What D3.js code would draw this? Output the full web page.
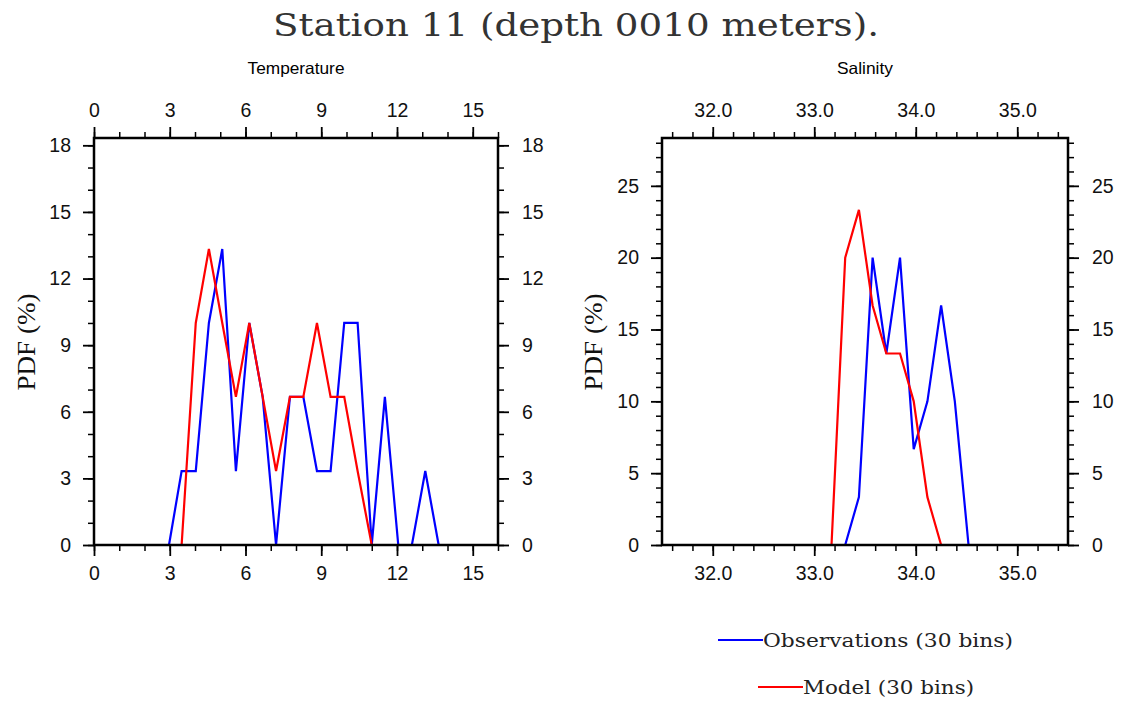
<!DOCTYPE html>
<html><head><meta charset="utf-8">
<script src="https://cdn.jsdelivr.net/npm/d3@7"></script>
<style>body{margin:0;background:#fff}svg{display:block}</style>
</head><body>
<svg id="c" width="1125" height="702"></svg>
<script>
// ---- data ----
const tempBins = [2.97, 3.47, 4.03, 4.55, 5.08, 5.62, 6.15, 6.68, 7.21, 7.76, 8.29, 8.83, 9.37, 9.91, 10.44, 11.0, 11.52, 12.05, 12.59, 13.12, 13.65];
const tempObs  = [0, 3.33, 3.33, 10, 13.33, 3.33, 10, 6.67, 0, 6.67, 6.67, 3.33, 3.33, 10, 10, 0, 6.67, 0, 0, 3.33, 0];
const tempModel = [null, 0, 10, 13.33, 10, 6.67, 10, 6.67, 3.33, 6.67, 6.67, 10, 6.67, 6.67, 3.33, 0, null, null, null, null, null];
const salBins = [33.17, 33.305, 33.44, 33.575, 33.71, 33.845, 33.98, 34.115, 34.25, 34.385, 34.52];
const salObs   = [null, 0, 3.33, 20, 13.33, 20, 6.67, 10, 16.67, 10, 0];
const salModel = [0, 20, 23.33, 16.67, 13.33, 13.33, 10, 3.33, 0, null, null];
const tempXTicks = [0, 3, 6, 9, 12, 15];
const tempYTicks = [0, 3, 6, 9, 12, 15, 18];
const salXTicks = [32, 33, 34, 35];
const salYTicks = [0, 5, 10, 15, 20, 25];
const seriesNames = ["Observations (30 bins)", "Model (30 bins)"];
const seriesColors = ["#0000ff", "#ff0000"];

const svg = d3.select("#c");
const dserif = "'DejaVu Serif', serif";
const sans = "'Liberation Sans', Arial, sans-serif";
const serif = "'Liberation Serif', 'Times New Roman', serif";

svg.append("text").attr("x", 576).attr("y", 36).attr("text-anchor", "middle")
  .attr("font-family", dserif).attr("font-size", 31).attr("fill", "#333")
  .attr("textLength", 606).attr("lengthAdjust", "spacingAndGlyphs")
  .text("Station 11 (depth 0010 meters).");

function panel(o) {
  const x = d3.scaleLinear().domain(o.xDomain).range([o.x0, o.x1]);
  const y = d3.scaleLinear().domain(o.yDomain).range([o.y1, o.y0]);
  const g = svg.append("g");
  // subtitle
  g.append("text").attr("x", (o.x0 + o.x1) / 2).attr("y", 74).attr("text-anchor", "middle")
    .attr("font-family", sans).attr("font-size", 16.5)
    .attr("textLength", o.subLen).attr("lengthAdjust", "spacingAndGlyphs")
    .text(o.title);
  // lines
  const line = d3.line().defined(d => d[1] != null).x(d => x(d[0])).y(d => y(d[1]));
  o.series.forEach((s, i) => {
    g.append("path").datum(o.bins.map((b, k) => [b, s[k]]))
      .attr("d", line).attr("fill", "none").attr("stroke", seriesColors[i])
      .attr("stroke-width", 2.2).attr("stroke-linejoin", "miter");
  });
  function addAxis(gen, scale, tr, major, minor, labels) {
    const a = g.append("g").attr("transform", tr)
      .call(gen(scale).tickValues(minor).tickSize(6).tickFormat("").tickSizeOuter(0));
    a.select(".domain").remove();
    a.selectAll("line").attr("stroke", "#000").attr("stroke-width", 1.5);
    const b = g.append("g").attr("transform", tr)
      .call(gen(scale).tickValues(major).tickSize(11).tickPadding(labels.pad).tickFormat(labels.fmt).tickSizeOuter(0));
    b.select(".domain").remove();
    b.selectAll("line").attr("stroke", "#000").attr("stroke-width", 1.8);
    b.selectAll("text").attr("font-family", sans).attr("font-size", 19.5).attr("fill", "#111");
  }
  addAxis(d3.axisBottom, x, `translate(0,${o.y1})`, o.xTicks, o.xMinor, {fmt: o.xFmt, pad: 10});
  addAxis(d3.axisTop, x, `translate(0,${o.y0})`, o.xTicks, o.xMinor, {fmt: o.xFmt, pad: 10});
  addAxis(d3.axisLeft, y, `translate(${o.x0},0)`, o.yTicks, o.yMinor, {fmt: d => String(d), pad: 12});
  addAxis(d3.axisRight, y, `translate(${o.x1},0)`, o.yTicks, o.yMinor, {fmt: d => String(d), pad: 13});
  // frame
  g.append("rect").attr("x", o.x0).attr("y", o.y0).attr("width", o.x1 - o.x0).attr("height", o.y1 - o.y0)
    .attr("fill", "none").attr("stroke", "#000").attr("stroke-width", 2.5);
  // y label
  g.append("text").attr("transform", `translate(${o.ylabX},342) rotate(-90)`)
    .attr("text-anchor", "middle").attr("dominant-baseline", "central")
    .attr("font-family", serif).attr("font-size", 25).attr("fill", "#111")
    .attr("textLength", 97).attr("lengthAdjust", "spacingAndGlyphs")
    .text("PDF (%)");
}

const tempMinorX = d3.range(0, 17, 1);
const tempMinorY = d3.range(0, 19, 1);
const salMinorX = d3.range(0, 20).map(i => +(31.6 + i * 0.2).toFixed(1));
const salMinorY = d3.range(0, 29, 1);

panel({x0: 94, x1: 498, y0: 138, y1: 545, xDomain: [0, 16], yDomain: [0, 18.33],
  title: "Temperature", subLen: 97, bins: tempBins, series: [tempObs, tempModel],
  xTicks: tempXTicks, xMinor: tempMinorX, yTicks: tempYTicks, yMinor: tempMinorY,
  xFmt: d => String(d), ylabX: 26});
panel({x0: 662, x1: 1068, y0: 138, y1: 545, xDomain: [31.5, 35.5], yDomain: [0, 28.33],
  title: "Salinity", subLen: 56, bins: salBins, series: [salObs, salModel],
  xTicks: salXTicks, xMinor: salMinorX, yTicks: salYTicks, yMinor: salMinorY,
  xFmt: d => d3.format(".1f")(d), ylabX: 593});

// legend
const leg = [{x: 718, y: 640}, {x: 758, y: 687}];
seriesNames.forEach((n, i) => {
  const p = leg[i];
  svg.append("line").attr("x1", p.x).attr("x2", p.x + 45).attr("y1", p.y).attr("y2", p.y)
    .attr("stroke", seriesColors[i]).attr("stroke-width", 2);
  svg.append("text").attr("x", p.x + 45).attr("y", p.y + 7)
    .attr("font-family", dserif).attr("font-size", 19).attr("fill", "#222")
    .attr("textLength", i === 0 ? 250 : 171).attr("lengthAdjust", "spacingAndGlyphs")
    .text(n);
});
</script>
</body></html>
